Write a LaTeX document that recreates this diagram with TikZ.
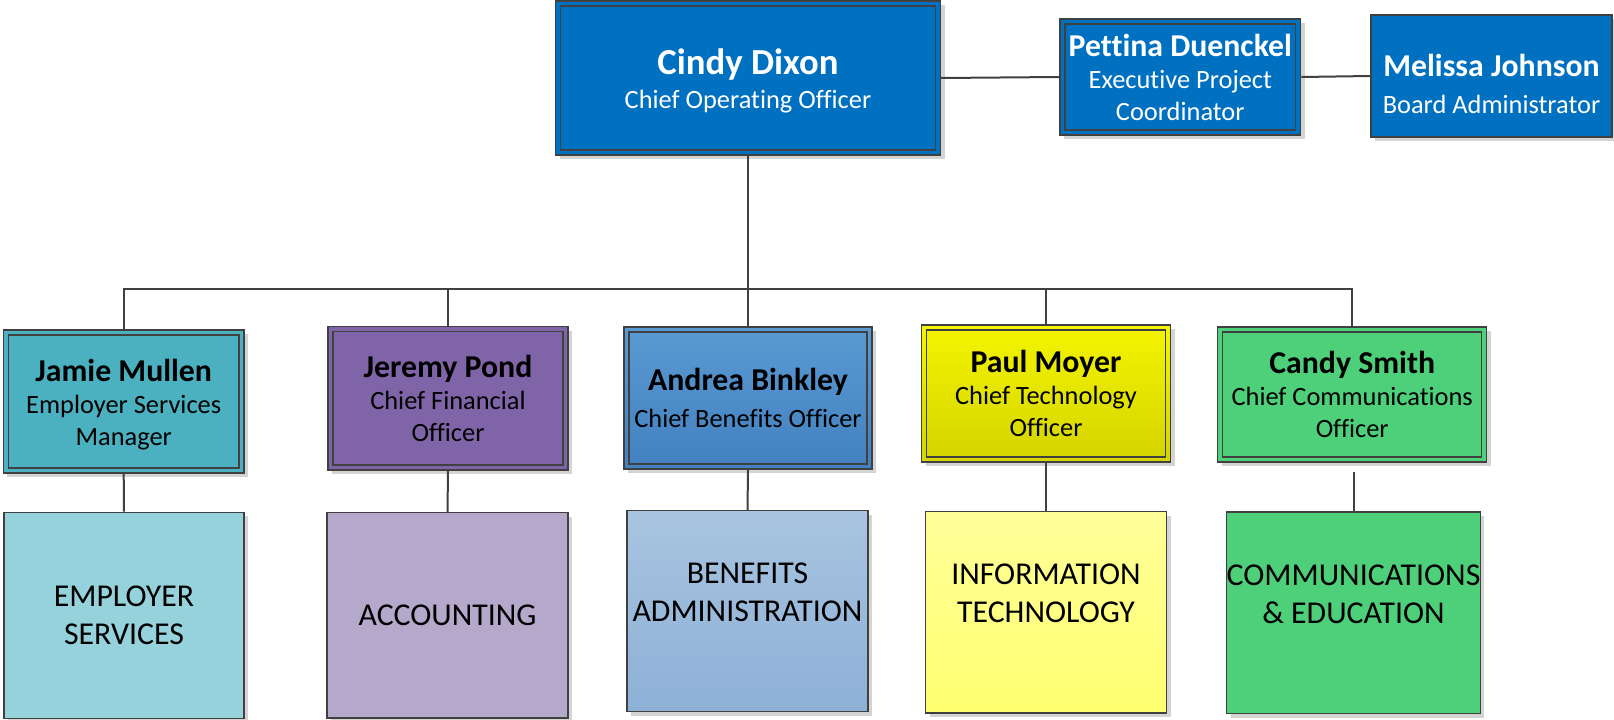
\documentclass[tikz,border=0pt]{standalone}
\usepackage{fontspec}
\setmainfont{Carlito}[RawFeature={-liga}]
\usetikzlibrary{shadows}
\definecolor{topblue}{HTML}{0070C0}
\definecolor{bordercol}{HTML}{404040}
\definecolor{linecol}{HTML}{404040}
\definecolor{shadowgray}{HTML}{D4D4D4}
\definecolor{tealc}{HTML}{4BB0C0}
\definecolor{purplec}{HTML}{8064A8}
\definecolor{bluetop}{HTML}{5A9AD2}
\definecolor{bluebot}{HTML}{4280C0}
\definecolor{yeltop}{HTML}{F4F400}
\definecolor{yelbot}{HTML}{D4D400}
\definecolor{greenc}{HTML}{4ECF79}
\definecolor{ltealc}{HTML}{95D2DB}
\definecolor{lpurplec}{HTML}{B5A9CB}
\definecolor{lbluetop}{HTML}{A8C4E0}
\definecolor{lbluebot}{HTML}{8DB0D6}
\definecolor{lyeltop}{HTML}{FFFF99}
\definecolor{lyelbot}{HTML}{FFFF70}
\newcommand\ocBig{\fontsize{36.7}{42}\selectfont\bfseries}
\newcommand\ocName{\fontsize{31.8}{36}\selectfont\bfseries}
\newcommand\ocTitle{\fontsize{26.4}{32}\selectfont}
\newcommand\ocDept{\fontsize{31.8}{38}\selectfont}
\tikzset{
  orgbox/.style={draw=bordercol, line width=1.3pt, inner sep=0pt, align=center,
    general shadow={fill=shadowgray, shadow xshift=4pt, shadow yshift=-4pt}},
  dblbox/.style={orgbox, path picture={\draw[draw=bordercol, line width=1.2pt]
    ([shift={(5pt,-5pt)}]path picture bounding box.north west) rectangle
    ([shift={(-5pt,5pt)}]path picture bounding box.south east);}},
  topbox/.style={dblbox, fill=topblue, text=white, font=\ocTitle},
  midbox/.style={dblbox, text=black, font=\ocTitle},
  deptbox/.style={orgbox, text=black, font=\ocDept},
  link/.style={draw=linecol, line width=2pt},
}
\begin{document}
\begin{tikzpicture}[x=1pt, y=-1pt]
\useasboundingbox (0,0) rectangle (1614,720);
% top row
\node[topbox, minimum width=385pt, minimum height=154pt] (cindy) at (748,78)
  {\ocBig Cindy Dixon\\[2pt]\ocTitle Chief Operating Officer\\[-34pt]\mbox{}};
\node[topbox, minimum width=240.7pt, minimum height=116pt] (pettina) at (1180.3,77)
  {\ocName Pettina Duenckel\\\ocTitle Executive Project\\\ocTitle Coordinator};
\node[orgbox, fill=topblue, text=white, font=\ocTitle, minimum width=241pt, minimum height=122pt] (melissa) at (1491.5,76)
  {\ocName Melissa Johnson\\[5pt]\ocTitle Board Administrator\\[-47pt]\mbox{}};
% middle row
\node[midbox, fill=tealc, minimum width=240.6pt, minimum height=143pt] (jamie) at (123.7,401.5)
  {\ocName Jamie Mullen\\\ocTitle Employer Services\\\ocTitle Manager\\[-33pt]\mbox{}};
\node[midbox, fill=purplec, minimum width=240pt, minimum height=143.3pt] (jeremy) at (448,398.3)
  {\ocName Jeremy Pond\\\ocTitle Chief Financial\\\ocTitle Officer};
\node[midbox, top color=bluetop, bottom color=bluebot, minimum width=248pt, minimum height=142pt] (andrea) at (748,398)
  {\ocName Andrea Binkley\\[5pt]\ocTitle Chief Benefits Officer};
\node[midbox, top color=yeltop, bottom color=yelbot, minimum width=249pt, minimum height=137pt] (paul) at (1046,393.5)
  {\ocName Paul Moyer\\\ocTitle Chief Technology\\\ocTitle Officer};
\node[midbox, fill=greenc, minimum width=269pt, minimum height=135pt] (candy) at (1352.2,394.5)
  {\ocName Candy Smith\\\ocTitle Chief Communications\\\ocTitle Officer};
% bottom row
\node[deptbox, fill=ltealc, minimum width=240pt, minimum height=206pt] (employer) at (124,615.3)
  {EMPLOYER\\SERVICES};
\node[deptbox, fill=lpurplec, minimum width=241pt, minimum height=205.3pt] (accounting) at (447.5,615.3)
  {ACCOUNTING};
\node[deptbox, top color=lbluetop, bottom color=lbluebot, minimum width=241pt, minimum height=201pt] (benefits) at (747.5,611.2)
  {BENEFITS\\ADMINISTRATION\\\mbox{}};
\node[deptbox, top color=lyeltop, bottom color=lyelbot, minimum width=241pt, minimum height=201.3pt] (it) at (1046,612.3)
  {INFORMATION\\TECHNOLOGY\\\mbox{}};
\node[deptbox, fill=greenc, minimum width=251.5pt, minimum height=201.7pt] (comm) at (1353.5,612.8)
  {COMMUNICATIONS\\\&~EDUCATION\\\mbox{}};
% connectors
\coordinate (bus) at (0,289);
\coordinate (cgap) at ([yshift=-9pt]candy.south);
\draw[link] (cindy.east) -- (pettina.west);
\draw[link] (pettina.east) -- (melissa.west);
\draw[link] (cindy.south) -- (cindy.south |- bus);
\draw[link] (jamie.north) -- (jamie.north |- bus) -- (candy.north |- bus) -- (candy.north);
\draw[link] (jeremy.north) -- (jeremy.north |- bus);
\draw[link] (andrea.north) -- (andrea.north |- bus);
\draw[link] (paul.north) -- (paul.north |- bus);
\draw[link] (jamie.south) -- (employer.north);
\draw[link] (jeremy.south) -- (accounting.north);
\draw[link] (andrea.south) -- (benefits.north);
\draw[link] (paul.south) -- (it.north);
\draw[link] (comm.north) -- (comm.north |- cgap);
\end{tikzpicture}
\end{document}
